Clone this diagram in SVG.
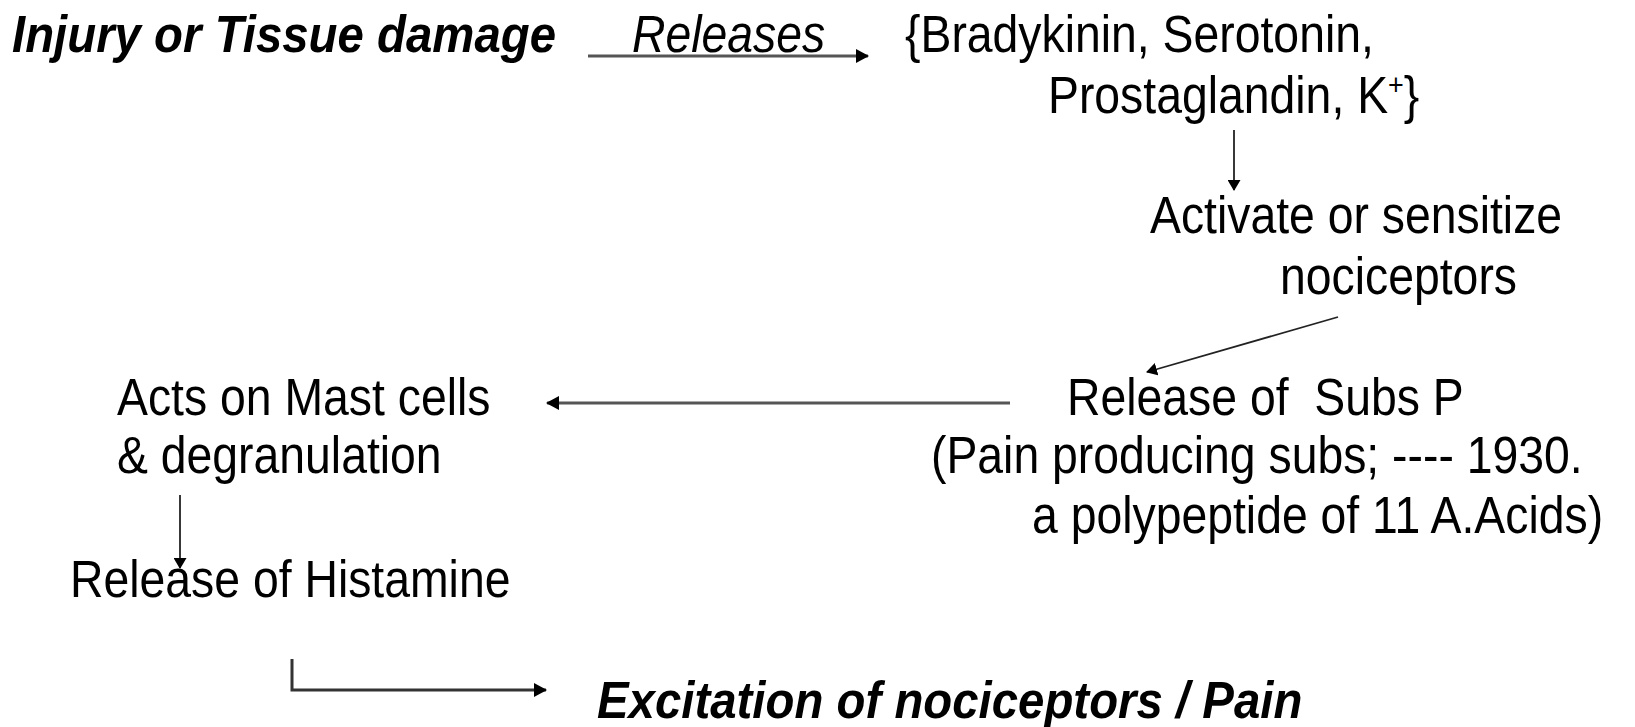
<svg xmlns="http://www.w3.org/2000/svg" width="1635" height="727" viewBox="0 0 1635 727">
<defs>
<style>
text{font-family:"Liberation Sans",Arial,sans-serif;font-size:51.5px;fill:#000;white-space:pre}
.bi{font-weight:bold;font-style:italic}
.it{font-style:italic}
.c{fill:none;stroke:#555;stroke-width:3}
.t{fill:none;stroke:#222;stroke-width:1.8}
</style>
<marker id="ah" viewBox="0 0 13 14" refX="12" refY="7" markerWidth="13" markerHeight="14" markerUnits="userSpaceOnUse" orient="auto"><path d="M0,0 L13,7 L0,14 z" fill="#000"/></marker>
<marker id="as" viewBox="0 0 11 13" refX="10" refY="6.5" markerWidth="11" markerHeight="13" markerUnits="userSpaceOnUse" orient="auto"><path d="M0,0 L11,6.5 L0,13 z" fill="#000"/></marker>
</defs>
<rect width="1635" height="727" fill="#fff"/>
<g id="injury"><text class="bi" transform="translate(12,52) scale(0.92,1)">Injury or Tissue damage</text></g>
<g id="mediators"><text transform="translate(905,52) scale(0.9,1)">{Bradykinin, Serotonin,</text><text transform="translate(1048,113) scale(0.9,1)">Prostaglandin, K<tspan font-size="30" dy="-18">+</tspan><tspan dy="18">}</tspan></text></g>
<g id="activate"><text transform="translate(1150,233) scale(0.9,1)">Activate or sensitize</text><text transform="translate(1280,294) scale(0.9,1)">nociceptors</text></g>
<g id="subsp"><text transform="translate(1067,415) scale(0.9,1)">Release of  Subs P</text><text transform="translate(931,473) scale(0.9,1)">(Pain producing subs; ---- 1930.</text><text transform="translate(1032,533) scale(0.9,1)">a polypeptide of 11 A.Acids)</text></g>
<g id="mast"><text transform="translate(117,415) scale(0.9,1)">Acts on Mast cells</text><text transform="translate(117,473) scale(0.9,1)">&amp; degranulation</text></g>
<g id="histamine"><text transform="translate(70,597) scale(0.9,1)">Release of Histamine</text></g>
<g id="pain"><text class="bi" transform="translate(597,718) scale(0.92,1)">Excitation of nociceptors / Pain</text></g>
<g id="connectors">
<text class="it" transform="translate(632,52) scale(0.9,1)">Releases</text>
<line class="c" x1="588" y1="56" x2="868" y2="56" marker-end="url(#ah)"/>
<line class="t" x1="1234" y1="130" x2="1234" y2="190" marker-end="url(#as)"/>
<line class="t" x1="1338" y1="317" x2="1147" y2="372" marker-end="url(#as)"/>
<line class="c" x1="1010" y1="403" x2="547" y2="403" marker-end="url(#ah)"/>
<line class="t" x1="180" y1="495" x2="180" y2="568" marker-end="url(#as)"/>
<path class="c" d="M292,659 V690 H546" marker-end="url(#ah)" style="stroke:#333"/>
</g>
</svg>
